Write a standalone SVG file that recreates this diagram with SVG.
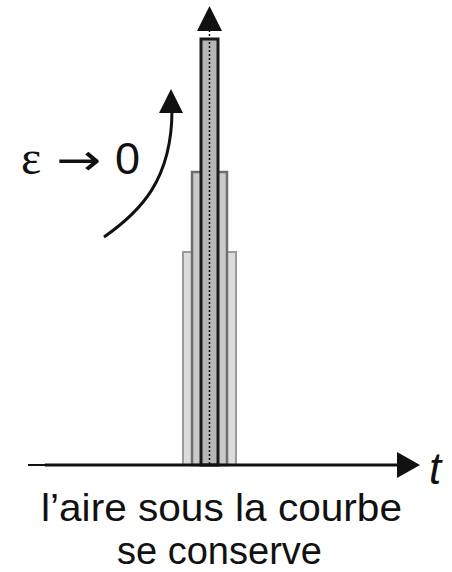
<svg xmlns="http://www.w3.org/2000/svg" width="452" height="572" viewBox="0 0 452 572">
<style>
.lbl{font-family:"Liberation Sans",Arial,sans-serif;fill:#111}
.sym{font-family:"Liberation Serif","DejaVu Serif",serif;fill:#111}
.arr{font-family:"DejaVu Sans",sans-serif;fill:#111}
</style>
<rect width="452" height="572" fill="#fff"/>
<g id="pulse-wide"><rect x="183" y="252" width="53" height="213" fill="#dcdcdc" stroke="#9a9a9a" stroke-width="2"/></g>
<g id="pulse-medium"><rect x="192" y="172" width="35" height="293" fill="#cacaca" stroke="#6e6e6e" stroke-width="2.5"/></g>
<g id="pulse-narrow"><rect x="201" y="39" width="17" height="426" fill="#b6b6b6" stroke="#1a1a1a" stroke-width="3"/></g>
<g id="connectors">
<line x1="209.5" y1="30" x2="209.5" y2="465" stroke="#111" stroke-width="1.5" stroke-dasharray="2,2"/>
<polygon points="209.5,6 197,31 222,31" fill="#111"/>
<path d="M28,465 H45" stroke="#111" stroke-width="2"/>
<path d="M45,465 H400" stroke="#111" stroke-width="3"/>
<polygon points="420,465 397,452 397,478" fill="#111"/>
<path d="M104,237 C140,212 172,180 172,110" fill="none" stroke="#111" stroke-width="3"/>
<polygon points="171,89 159,113 183,113" fill="#111"/>
</g>
<g id="labels">
<text class="sym" x="21" y="174" font-size="48">ε</text>
<text class="arr" x="56" y="175" font-size="44" textLength="45" lengthAdjust="spacingAndGlyphs">→</text>
<text class="lbl" x="115" y="174" font-size="45">0</text>
<text class="lbl" x="429" y="484" font-size="44" font-style="italic">t</text>
<text class="lbl" x="221.5" y="521" font-size="39" text-anchor="middle" textLength="361" lengthAdjust="spacingAndGlyphs">l’aire sous la courbe</text>
<text class="lbl" x="219.5" y="564" font-size="38" text-anchor="middle">se conserve</text>
</g>
</svg>
